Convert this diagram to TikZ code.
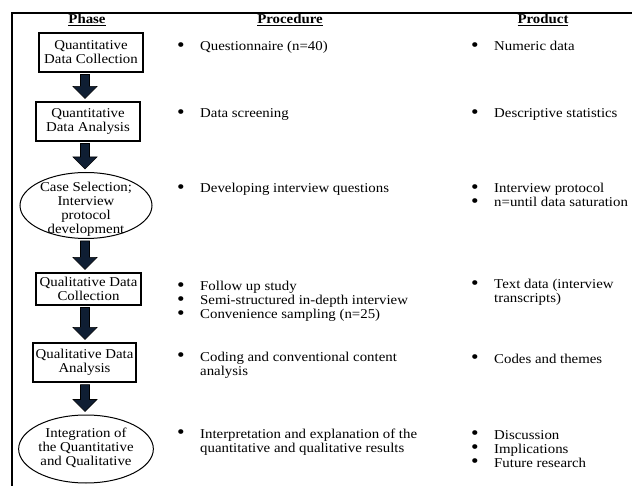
\documentclass[tikz,border=0pt]{standalone}
\usepackage{fontspec}
\setmainfont[FakeStretch=1.1]{Liberation Serif}
\usetikzlibrary{shapes.geometric,calc}
\definecolor{navy}{HTML}{0F1E33}
\newcommand\bul{\makebox[23pt][l]{\smash{\raisebox{-0.6pt}{\scalebox{1.45}{•}}}}}
\newcommand\ind{\hspace*{23pt}}
\newcommand\basefont{\fontsize{13.5}{14}\selectfont}
\newcommand\flowarrow[2]{%
  \path[arrowfill] let \p1=(#1.south), \p2=(#2.north) in
    (80.5pt,\y1-2pt) -- (89.5pt,\y1-2pt) -- (89.5pt,\y2+15pt) -- (97pt,\y2+15pt)
    -- (85pt,\y2+3pt) -- (73pt,\y2+15pt) -- (80.5pt,\y2+15pt) -- cycle;}
\tikzset{
  phasebox/.style={draw, line width=1.1pt, align=center, inner sep=0pt, font=\basefont},
  phaseoval/.style={draw, ellipse, line width=1pt, inner sep=0pt, font=\basefont},
  listtext/.style={anchor=base west, align=left, inner sep=0pt, font=\basefont},
  head/.style={anchor=base, inner sep=0pt, font=\basefont\bfseries},
  arrowfill/.style={fill=navy, draw=black, line width=0.6pt},
  frameline/.style={line width=1.6pt}
}
\begin{document}
\begin{tikzpicture}[x=1pt,y=-1pt]
\useasboundingbox[fill=white] (0,0) rectangle (632,486);
% frame
\coordinate (fb) at (12,486);
\coordinate (fc) at (12,13);
\coordinate (fr) at (632,13);
\draw[frameline] (fb) -- (fc) -- (fr);
% headers
\node[head] (h1) at (87,24) {\underline{Phase}};
\node[head] (h2) at (290,24) {\underline{Procedure}};
\node[head] (h3) at (543,24) {\underline{Product}};
% phases
\node[phasebox, minimum width=104pt, minimum height=39pt] (p1) at (91,52.5) {Quantitative\\Data Collection};
\node[phasebox, minimum width=104pt, minimum height=39pt] (p2) at (88,121.5) {Quantitative\\Data Analysis};
\node[phaseoval, minimum width=132pt, minimum height=66pt] (p3) at (86,205.5)
  {\smash{\raisebox{-7.5pt}{\begin{tabular}{@{}c@{}}Case Selection;\\Interview\\protocol\\development\end{tabular}}}};
\node[phasebox, minimum width=105pt, minimum height=32pt] (p4) at (88.5,289) {Qualitative Data\\Collection};
\node[phasebox, minimum width=103pt, minimum height=39pt] (p5) at (84.5,362.5) {Qualitative Data\\Analysis};
\node[phaseoval, minimum width=132pt, minimum height=68pt] (p6) at (86,449)
  {\smash{\raisebox{-3pt}{\begin{tabular}{@{}c@{}}Integration of\\the Quantitative\\and Qualitative\end{tabular}}}};
% arrows
\flowarrow{p1}{p2}
\flowarrow{p2}{p3}
\flowarrow{p3}{p4}
\flowarrow{p4}{p5}
\flowarrow{p5}{p6}
% procedure (base anchor = baseline of last line)
\node[listtext] (q1) at (177,51) {\bul Questionnaire (n=40)};
\node[listtext] (q2) at (177,118) {\bul Data screening};
\node[listtext] (q3) at (177,193) {\bul Developing interview questions};
\node[listtext] (q4) at (177,319) {\bul Follow up study\\\bul Semi-structured in-depth interview\\\bul Convenience sampling (n=25)};
\node[listtext] (q5) at (177,375) {\bul Coding and conventional content\\\ind analysis};
\node[listtext] (q6) at (177,452) {\bul Interpretation and explanation of the\\\ind quantitative and qualitative results};
% product
\node[listtext] (r1) at (471,51) {\bul Numeric data};
\node[listtext] (r2) at (471,118) {\bul Descriptive statistics};
\node[listtext] (r3) at (471,207) {\bul Interview protocol\\\bul n=until data saturation};
\node[listtext] (r4) at (471,303) {\bul Text data (interview\\\ind transcripts)};
\node[listtext] (r5) at (471,363) {\bul Codes and themes};
\node[listtext] (r6) at (471,467) {\bul Discussion\\\bul Implications\\\bul Future research};
\end{tikzpicture}
\end{document}
